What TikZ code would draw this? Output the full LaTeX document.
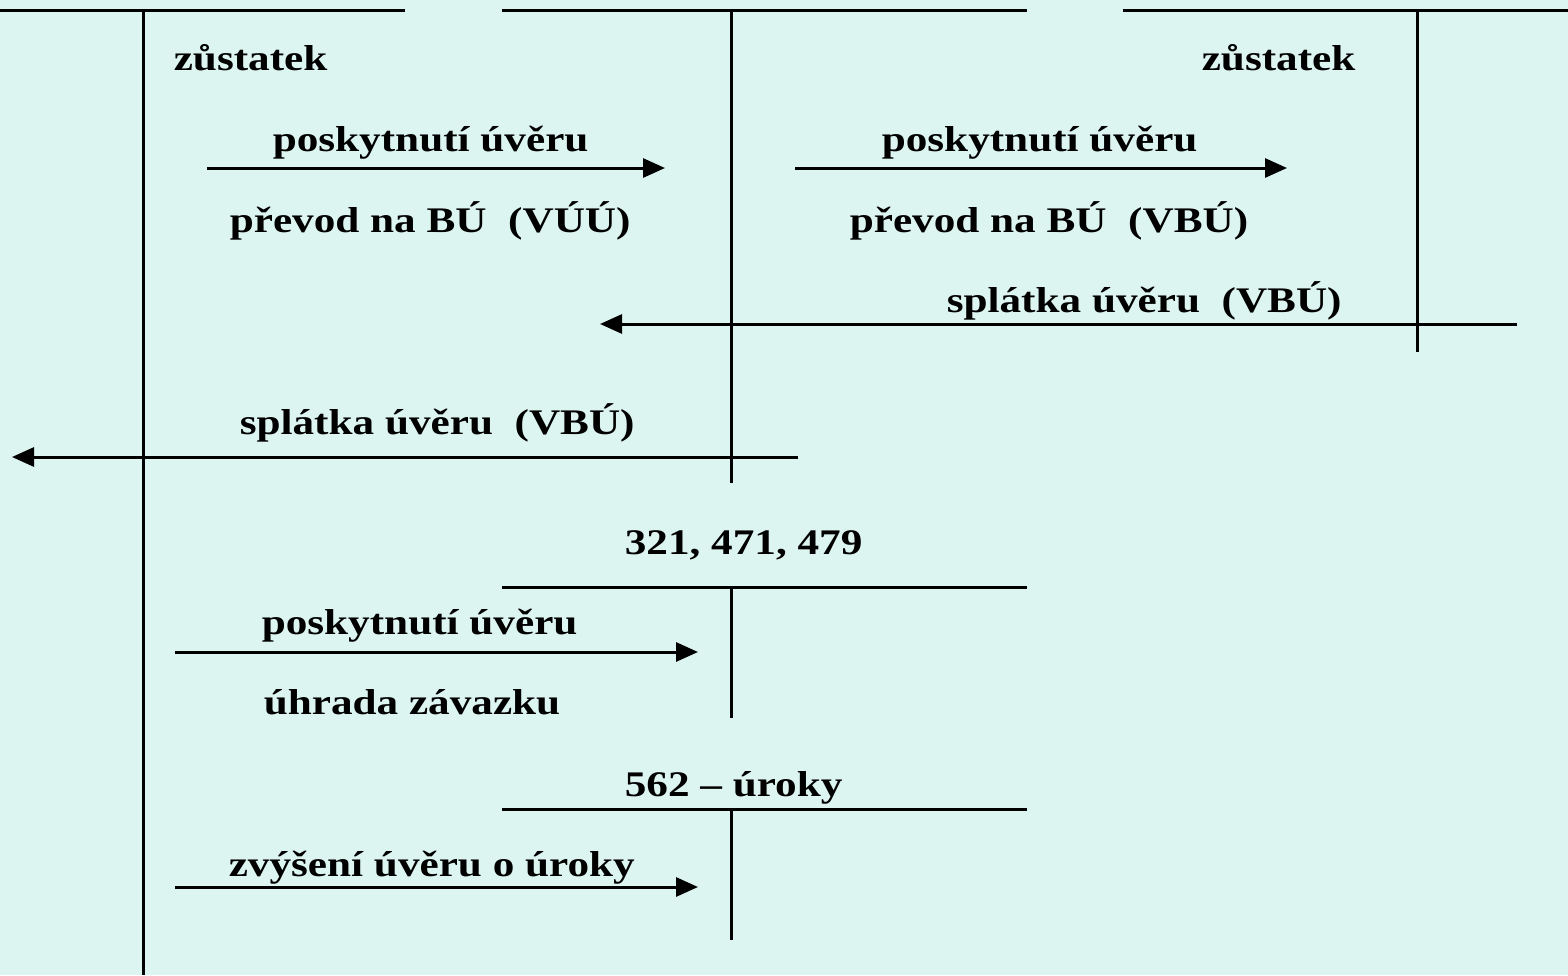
\documentclass[tikz,border=0pt]{standalone}
\usepackage{fontspec}
\setmainfont{Liberation Serif}
\usetikzlibrary{arrows.meta}
\definecolor{bgcyan}{HTML}{DDF5F0}
\begin{document}
\begin{tikzpicture}[x=0.5pt,y=-0.5pt,line width=1.5pt,line cap=butt,>={Triangle[length=11pt,width=9.5pt]}]
  \tikzset{lbl/.style={font=\bfseries\fontsize{18}{20}\selectfont,inner sep=0pt,anchor=base west,xscale=1.2,transform shape}}
  \fill[bgcyan] (0,0) rectangle (1568,975);
  \useasboundingbox (0,0) rectangle (1568,975);
  % T accounts: left/right end of top line, its y, x of the stem, stem bottom
  \foreach \l/\r/\t/\v/\b in {0/405/10/143/975, 502/1027/10/731/483, 1123/1568/10/1417/352, 502/1027/587/731/718, 502/1027/809/731/940}
    \draw (\l,\t)--(\r,\t) (\v,\t)--(\v,\b);
  % labels
  \node[lbl] (zust1) at (172,70) {zůstatek};
  \node[lbl] (zust2) at (1200,70) {zůstatek};
  \node[lbl] (posk1) at (271,151) {poskytnutí úvěru};
  \node[lbl] (prev1) at (228,232) {převod na BÚ\ \ (VÚÚ)};
  \node[lbl] (posk2) at (880,151) {poskytnutí úvěru};
  \node[lbl] (prev2) at (848,232) {převod na BÚ\ \ (VBÚ)};
  \node[lbl] (spl1) at (945,312) {splátka úvěru\ \ (VBÚ)};
  \node[lbl] (spl2) at (238,434) {splátka úvěru\ \ (VBÚ)};
  \node[lbl] (acc321) at (623,554) {321, 471, 479};
  \node[lbl] (posk3) at (260,634) {poskytnutí úvěru};
  \node[lbl] (uhr) at (262,714) {úhrada závazku};
  \node[lbl] (acc562) at (623,796) {562 -- úroky};
  \node[lbl] (zvys) at (227,876) {zvýšení úvěru o úroky};
  % arrows
  \coordinate (a1s) at (207,168);  \coordinate (a1e) at (665,168);
  \coordinate (a2s) at (795,168);  \coordinate (a2e) at (1287,168);
  \coordinate (a3s) at (1517,324); \coordinate (a3e) at (600,324);
  \coordinate (a4s) at (798,457);  \coordinate (a4e) at (12,457);
  \coordinate (a5s) at (175,652);  \coordinate (a5e) at (698,652);
  \coordinate (a6s) at (175,887);  \coordinate (a6e) at (698,887);
  \foreach \s/\e in {a1s/a1e, a2s/a2e, a3s/a3e, a4s/a4e, a5s/a5e, a6s/a6e}
    \draw[->] (\s)--(\e);
\end{tikzpicture}
\end{document}
